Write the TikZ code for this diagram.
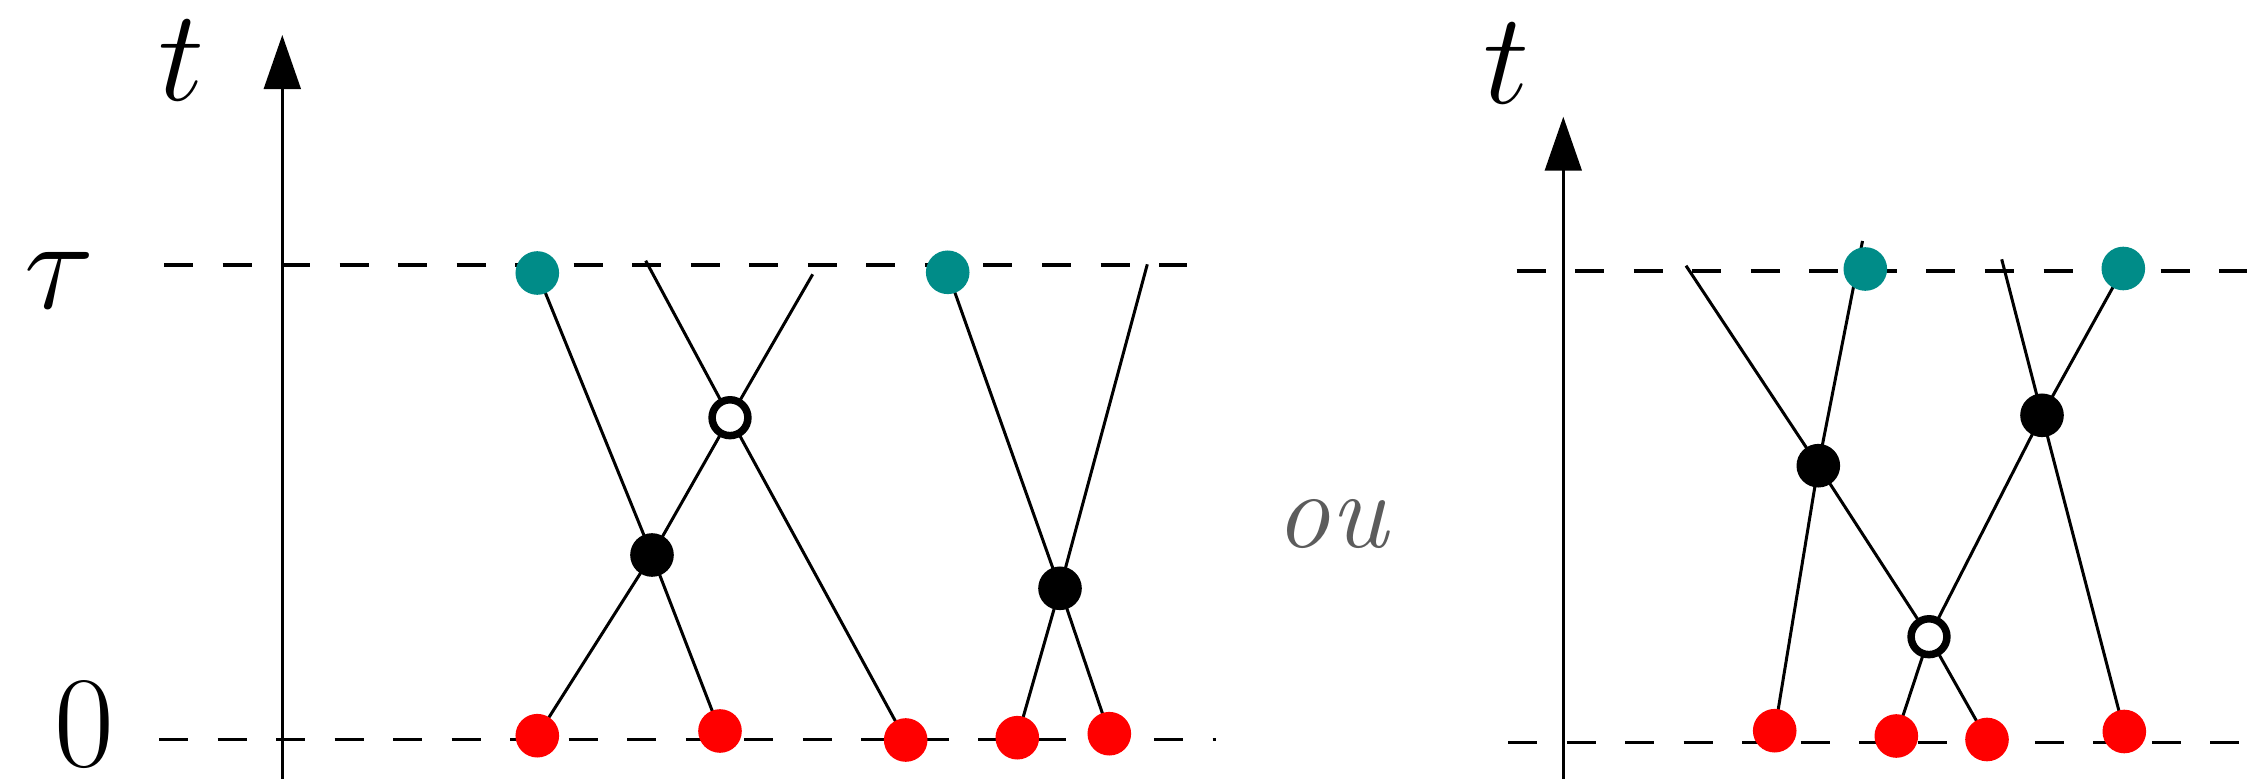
\documentclass[tikz,border=0pt]{standalone}
\usepackage{fix-cm}
\usetikzlibrary{arrows.meta,backgrounds}
\definecolor{tealdot}{RGB}{0,140,136}
\definecolor{reddot}{RGB}{255,0,0}
\definecolor{ougray}{RGB}{92,92,92}
\tikzset{
  wl/.style={line width=0.03cm, black},
  dashline/.style={line width=0.03cm, black, dash pattern=on 0.29cm off 0.295cm},
  axisline/.style={line width=0.029cm, black, -{Triangle[length=0.54cm,width=0.367cm]}},
  dotbase/.style={circle, inner sep=0pt, minimum size=0.436cm, draw=none},
  tealnode/.style={dotbase, fill=tealdot},
  rednode/.style={dotbase, fill=reddot},
  blacknode/.style={dotbase, fill=black},
  opennode/.style={circle, inner sep=0pt, minimum size=0.358cm, draw=black, line width=0.075cm, fill=white},
  biglabel/.style={inner sep=0pt, font=\fontsize{37}{44}\selectfont},
}
\begin{document}
\begin{tikzpicture}[x=0.01cm, y=-0.01cm]
\useasboundingbox (0,0) rectangle (2254,779);

% ---------------- left panel ----------------
\coordinate (tauL0) at (164,265);
\coordinate (tauL1) at (1187,265);
\coordinate (zeroL0) at (159,739);
\coordinate (zeroL1) at (1216,739);
\draw[dashline] (tauL0) -- (tauL1);
\draw[dashline] (zeroL0) -- (zeroL1);
\coordinate (axL0) at (282.3,779);
\coordinate (axL1) at (282.3,35);
\draw[axisline] (axL0) -- (axL1);
\node[biglabel] (tL) at (182,60) {$t$};
\node[biglabel] (tauL) at (59,280) {$\tau$};
\node[biglabel] (zeroL) at (84.7,725) {$0$};

\node[tealnode] (teal1) at (537.3,273) {};
\node[tealnode] (teal2) at (947.7,272.3) {};
\node[blacknode] (black1) at (652,555) {};
\node[blacknode] (black2) at (1060,588.3) {};
\node[opennode] (open1) at (730,417.7) {};
\node[rednode] (red1) at (537.3,735.7) {};
\node[rednode] (red2) at (720,731) {};
\node[rednode] (red3) at (905.7,740) {};
\node[rednode] (red4) at (1017.3,737.7) {};
\node[rednode] (red5) at (1109.3,733.7) {};
\coordinate (e1) at (645.7,260.7);
\coordinate (e2) at (812.7,274.3);
\coordinate (e3) at (1147.3,264.3);

% ---------------- right panel ----------------
\coordinate (tauR0) at (1516.7,271);
\coordinate (tauR1) at (2247,271);
\coordinate (zeroR0) at (1508,742);
\coordinate (zeroR1) at (2243,742);
\draw[dashline] (tauR0) -- (tauR1);
\draw[dashline] (zeroR0) -- (zeroR1);
\coordinate (axR0) at (1563.3,779);
\coordinate (axR1) at (1563.3,116.7);
\draw[axisline] (axR0) -- (axR1);
\node[biglabel] (tR) at (1506.7,63.3) {$t$};
\node[inner sep=0pt, text=ougray, font=\fontsize{31}{37}\selectfont\itshape] (ou) at (1331.5,524) {ou};

\node[tealnode] (teal3) at (1865.3,269) {};
\node[tealnode] (teal4) at (2123.3,268.5) {};
\node[blacknode] (black3) at (1818.3,465.7) {};
\node[blacknode] (black4) at (2042,415.3) {};
\node[opennode] (open2) at (1929,636.7) {};
\node[rednode] (red6) at (1774.7,730.7) {};
\node[rednode] (red7) at (1896.3,736) {};
\node[rednode] (red8) at (1987,739.5) {};
\node[rednode] (red9) at (2124.3,731.5) {};
\coordinate (f1) at (1686,265.7);
\coordinate (f2) at (1862.5,241);
\coordinate (f3) at (2001.7,259.3);

% ---------------- world lines ----------------
\begin{pgfonlayer}{background}
\draw[wl] (teal1.center) -- (black1.center) -- (red2.center);
\draw[wl] (e1) -- (open1.center) -- (red3.center);
\draw[wl] (e2) -- (open1.center) -- (black1.center) -- (red1.center);
\draw[wl] (teal2.center) -- (black2.center) -- (red5.center);
\draw[wl] (e3) -- (black2.center) -- (red4.center);
\draw[wl] (f1) -- (black3.center) -- (open2.center) -- (red8.center);
\draw[wl] (f2) -- (black3.center) -- (red6.center);
\draw[wl] (f3) -- (black4.center) -- (red9.center);
\draw[wl] (teal4.center) -- (black4.center) -- (open2.center) -- (red7.center);
\end{pgfonlayer}
\end{tikzpicture}
\end{document}
